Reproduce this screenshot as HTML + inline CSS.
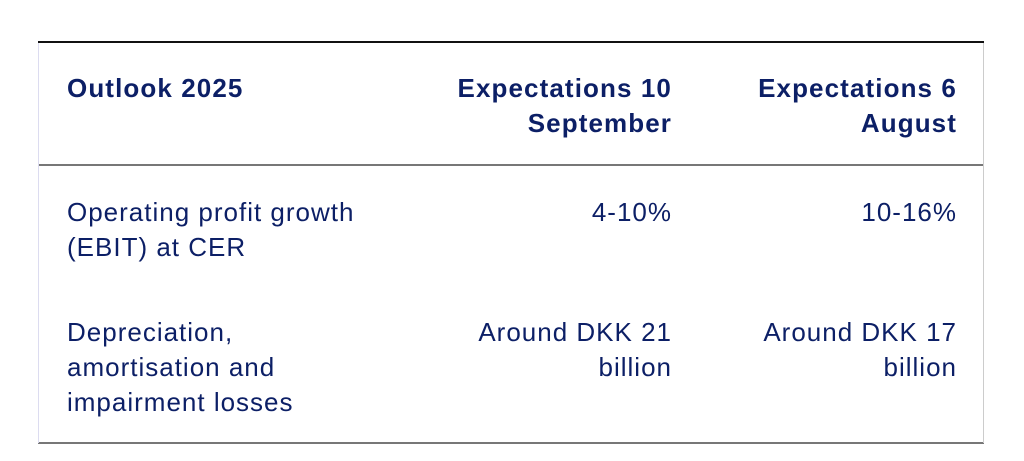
<!DOCTYPE html>
<html><head><meta charset="utf-8"><style>
html,body{margin:0;padding:0;background:#fff;width:1024px;height:461px;overflow:hidden;position:relative;font-family:"Liberation Sans",sans-serif;color:#0c1f66}
.t{position:absolute;font-size:26px;line-height:35px;white-space:nowrap;letter-spacing:1px}
.b{font-weight:bold;letter-spacing:1.1px}
.r{text-align:right}
.line{position:absolute;left:38px;width:946px}
</style></head><body>
<div class="line" style="top:41px;height:2px;background:#111"></div>
<div class="line" style="top:164px;height:2px;background:#777"></div>
<div class="line" style="top:442px;height:2px;background:#777"></div>
<div style="position:absolute;left:38px;top:43px;width:1px;height:400px;background:#dcdcf0"></div>
<div style="position:absolute;left:983px;top:43px;width:1px;height:400px;background:#ccc"></div>

<div class="t b" style="left:67px;top:71px">Outlook 2025</div>
<div class="t b r" style="right:352px;top:71px">Expectations 10<br>September</div>
<div class="t b r" style="right:67px;top:71px">Expectations 6<br>August</div>

<div class="t" style="left:67px;top:195px">Operating profit growth<br>(EBIT) at CER</div>
<div class="t r" style="right:352px;top:195px">4-10%</div>
<div class="t r" style="right:67px;top:195px">10-16%</div>

<div class="t" style="left:67px;top:315px">Depreciation,<br>amortisation and<br>impairment losses</div>
<div class="t r" style="right:352px;top:315px">Around DKK 21<br>billion</div>
<div class="t r" style="right:67px;top:315px">Around DKK 17<br>billion</div>
</body></html>
